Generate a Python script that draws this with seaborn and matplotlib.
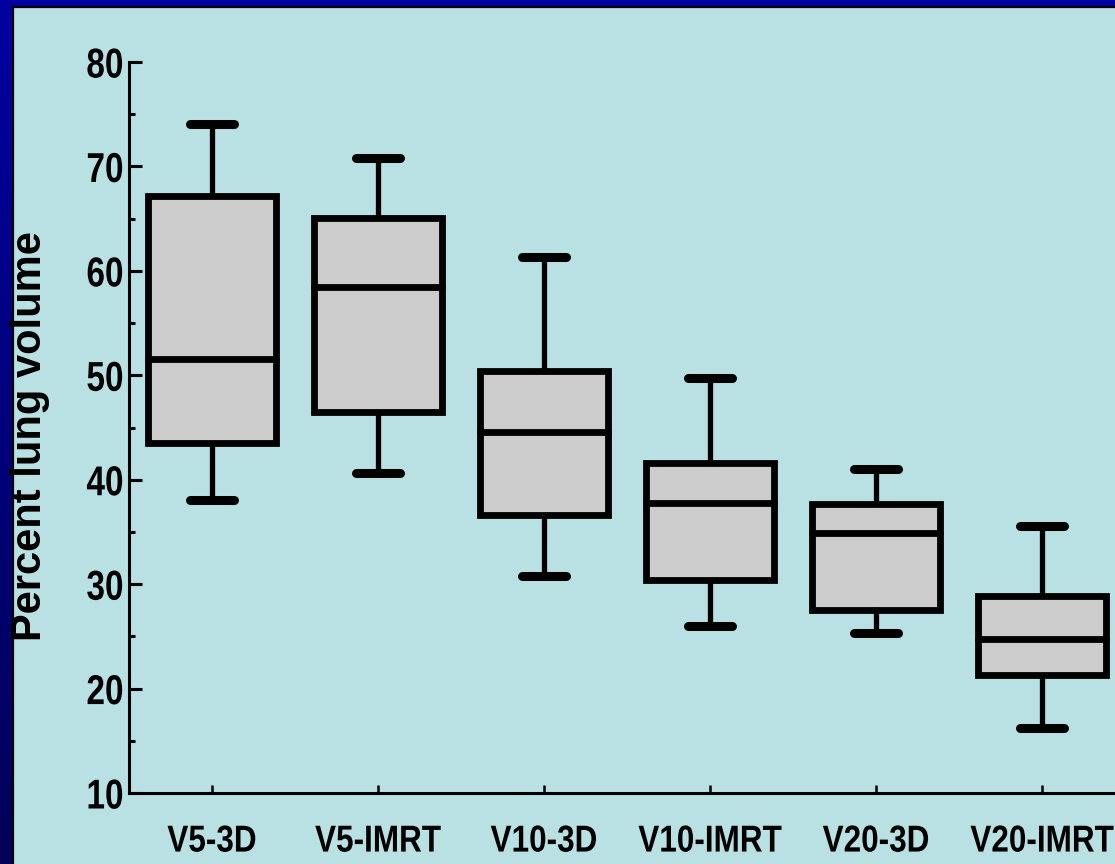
import numpy as np
import pandas as pd
import matplotlib
matplotlib.use("Agg")
import matplotlib.pyplot as plt
from matplotlib.patches import Rectangle
from matplotlib.patheffects import AbstractPathEffect
from matplotlib.transforms import Affine2D
import seaborn as sns

# Five-number summaries (min, Q1, median, Q3, max) of percent lung volume
categories = ["V5-3D", "V5-IMRT", "V10-3D", "V10-IMRT", "V20-3D", "V20-IMRT"]
v_min = [38.1, 40.6, 30.8, 26.0, 25.3, 16.2]
q1 = [43.5, 46.5, 36.6, 30.4, 27.5, 21.3]
median = [51.6, 58.5, 44.6, 37.8, 34.9, 24.7]
q3 = [67.2, 65.1, 50.4, 41.6, 37.7, 28.9]
v_max = [74.1, 70.8, 61.3, 49.7, 41.0, 35.6]
y_ticks = [10, 20, 30, 40, 50, 60, 70, 80]

rows = []
for i, cat in enumerate(categories):
    for v in (v_min[i], q1[i], median[i], q3[i], v_max[i]):
        rows.append({"group": cat, "value": v})
df = pd.DataFrame(rows)


class Squeeze(AbstractPathEffect):
    """Horizontally condense a text around its anchor point."""

    def __init__(self, text, sx):
        super().__init__()
        self.text = text
        self.sx = sx

    def draw_path(self, renderer, gc, tpath, affine, rgbFace=None):
        x0, y0 = self.text.get_transform().transform(self.text.get_position())
        squeeze = Affine2D().translate(-x0, -y0).scale(self.sx, 1.0).translate(x0, y0)
        renderer.draw_path(gc, tpath, affine + squeeze, rgbFace)


sns.set_theme(style="ticks")
plt.rcParams["font.family"] = ["Liberation Sans", "DejaVu Sans"]

W, H = 1115, 864
fig = plt.figure(figsize=(W / 100, H / 100), dpi=100)

# Dark blue gradient backdrop with the light panel on top
bg = fig.add_axes([0, 0, 1, 1], zorder=0)
grad = np.linspace(0, 1, 256).reshape(-1, 1)
top_c = np.array([0x00, 0x00, 0xA0]) / 255
bot_c = np.array([0x00, 0x00, 0x58]) / 255
img = top_c[None, None, :] * (1 - grad[:, :, None]) + bot_c[None, None, :] * grad[:, :, None]
bg.imshow(img, aspect="auto", extent=[0, 1, 0, 1], origin="upper")
bg.add_patch(Rectangle((13 / W, -0.05), 1.1, 1.05 - 7 / H,
                       facecolor="#b9e0e3", edgecolor="black", linewidth=1.6))
bg.set_xlim(0, 1)
bg.set_ylim(0, 1)
bg.axis("off")

ax = fig.add_axes([129 / W, (H - 793) / H, 996 / W, 731 / H], zorder=1)
ax.set_facecolor("none")

sns.boxplot(data=df, x="group", y="value", order=categories, ax=ax,
            whis=(0, 100), width=0.77, color="#cccccc", linecolor="black",
            linewidth=4.9, saturation=1, capwidths=0.26, showfliers=False)

# Rounded line ends, heavier caps, slightly thinner whiskers
for line in ax.lines:
    line.set_solid_capstyle("round")
    xd = np.asarray(line.get_xdata(), dtype=float)
    yd = np.asarray(line.get_ydata(), dtype=float)
    if len(xd) == 2 and yd[0] == yd[1] and abs(xd[1] - xd[0]) < 0.3:
        line.set_linewidth(6.5)
    elif len(xd) == 2 and xd[0] == xd[1]:
        line.set_linewidth(3.8)

ax.set_xlim(-0.5, 5.5)
ax.set_ylim(10, 80)
ax.set_yticks(y_ticks)
ax.set_yticks(np.arange(15, 80, 10), minor=True)
ax.set_yticklabels([str(t) for t in y_ticks], fontsize=30, fontweight="bold")
ax.set_xticks(range(len(categories)))
ax.set_xticklabels(categories, fontsize=27, fontweight="bold")

ax.tick_params(axis="y", which="major", direction="in", length=9, width=2.2,
               pad=4, colors="black")
ax.tick_params(axis="y", which="minor", direction="in", length=4, width=2.2,
               colors="black")
ax.tick_params(axis="x", which="major", direction="in", length=6, width=1.8,
               pad=22, colors="black")

for lbl in ax.get_yticklabels():
    lbl.set_path_effects([Squeeze(lbl, 0.8)])
for lbl in ax.get_xticklabels():
    lbl.set_path_effects([Squeeze(lbl, 0.84)])

sns.despine(ax=ax, top=True, right=True)
for side in ("left", "bottom"):
    ax.spines[side].set_linewidth(2.2)
    ax.spines[side].set_color("black")

ax.set_xlabel("")
ax.set_ylabel("Percent lung volume", fontsize=30, fontweight="bold",
              color="black")
ax.yaxis.set_label_coords(-0.079, 0.488)

fig.savefig("out.png", dpi=100, facecolor="#0000a0")
